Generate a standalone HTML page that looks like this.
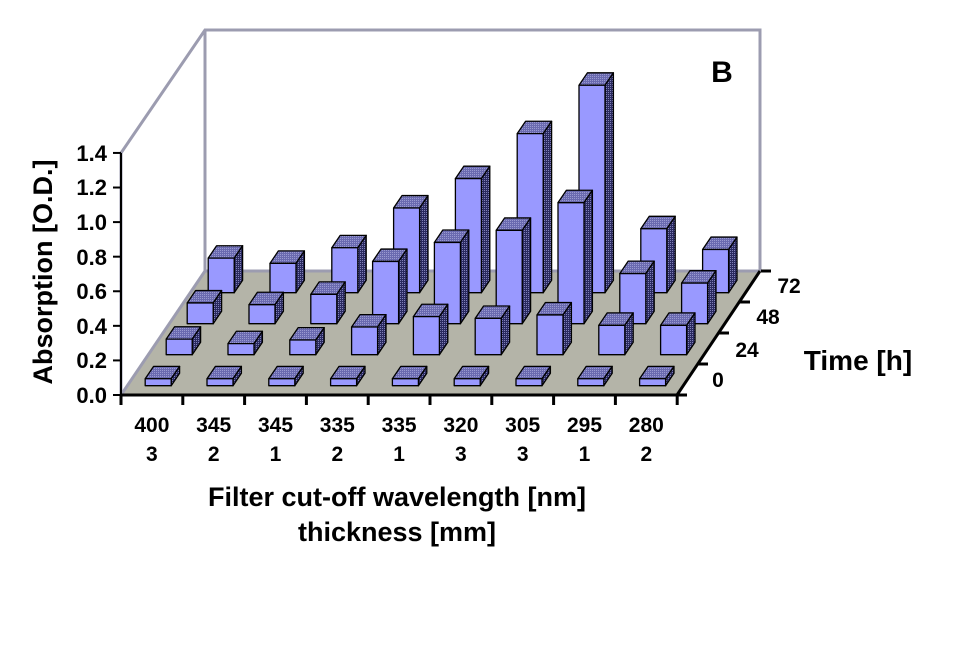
<!DOCTYPE html>
<html><head><style>
body{margin:0;background:#fff}
svg{display:block}
text{font-family:"Liberation Sans",Arial,sans-serif;font-weight:bold;fill:#000}
</style></head><body>
<svg id="s" width="975" height="650" viewBox="0 0 975 650" xmlns="http://www.w3.org/2000/svg">
<defs>
<pattern id="pt" width="2" height="2" patternUnits="userSpaceOnUse"><rect width="2" height="2" fill="#6a6ab0"/><rect width="1" height="1" fill="#9a9ad0"/></pattern>
<pattern id="ps" width="2" height="2" patternUnits="userSpaceOnUse"><rect width="2" height="2" fill="#2a2a60"/><rect width="1" height="1" fill="#8080b8"/></pattern>
</defs>
<polygon points="121,395 677,395 760,271 205,271" fill="#b4b4a8"/>
<g stroke="#9c9cb0" stroke-width="3" fill="none">
<polyline points="121,153 205,30 760,30 760,271"/>
<line x1="205" y1="30" x2="205" y2="271"/>
<line x1="205" y1="271" x2="760" y2="271"/>
<line x1="121" y1="395" x2="205" y2="271"/>
<line x1="121" y1="153" x2="121" y2="395"/>
</g>
<g id="bars"></g>
<g stroke="#000" stroke-width="3" fill="none" id="axes">
<line x1="121" y1="153" x2="121" y2="395" stroke-width="2"/>
<line x1="121" y1="395" x2="677" y2="395"/>
<line x1="677" y1="395" x2="760" y2="271"/>
</g>
<g font-size="22" text-anchor="end">
<text x="107" y="403">0.0</text><text x="107" y="368">0.2</text><text x="107" y="334">0.4</text><text x="107" y="299">0.6</text><text x="107" y="265">0.8</text><text x="107" y="230">1.0</text><text x="107" y="195">1.2</text><text x="107" y="161">1.4</text>
</g>
<text transform="translate(52,272) rotate(-90)" font-size="27" text-anchor="middle">Absorption [O.D.]</text>
<g font-size="21" text-anchor="middle" id="xl"></g>
<text x="397" y="506" font-size="27" text-anchor="middle">Filter cut-off wavelength [nm]</text>
<text x="397" y="541" font-size="27" text-anchor="middle">thickness [mm]</text>
<g font-size="21" text-anchor="middle">
<text x="789" y="293">72</text><text x="768" y="324">48</text><text x="747" y="357">24</text><text x="718" y="387">0</text>
</g>
<text x="858" y="370" font-size="28" text-anchor="middle">Time [h]</text>
<text x="722" y="82" font-size="30" text-anchor="middle">B</text>
</svg>
<script>
var ns="http://www.w3.org/2000/svg";
var vals=[
[0.04,0.04,0.04,0.04,0.04,0.04,0.04,0.04,0.04],
[0.09,0.064,0.085,0.16,0.22,0.21,0.23,0.17,0.17],
[0.12,0.11,0.17,0.36,0.47,0.54,0.70,0.29,0.235],
[0.20,0.17,0.26,0.49,0.66,0.92,1.20,0.37,0.25]];
var g=document.getElementById('bars'),ax=document.getElementById('axes'),xl=document.getElementById('xl');
function el(t,a,p){var e=document.createElementNS(ns,t);for(var k in a)e.setAttribute(k,a[k]);(p||g).appendChild(e);return e;}
var S=172.9;
for(var r=3;r>=0;r--){for(var i=0;i<9;i++){
 var f=(r+0.3)/4, dx=f*84, dy=f*124;
 var cx=121+61.8*(i+0.5)+dx, by=395-dy, h=vals[r][i]*S;
 var x0=cx-13,x1=cx+13,ty=by-h, ox=8.4, oy=12.4;
 var st={stroke:'#000','stroke-width':1.3,'stroke-linejoin':'round'};
 el('polygon',Object.assign({points:x0+','+ty+' '+x1+','+ty+' '+(x1+ox)+','+(ty-oy)+' '+(x0+ox)+','+(ty-oy),fill:'url(#pt)'},st));
 el('polygon',Object.assign({points:x1+','+ty+' '+x1+','+by+' '+(x1+ox)+','+(by-oy)+' '+(x1+ox)+','+(ty-oy),fill:'url(#ps)'},st));
 el('rect',Object.assign({x:x0,y:ty,width:26,height:h,fill:'#9999ff'},st));
}}
for(var i=0;i<10;i++){var x=121+61.8*i;el('line',{x1:x,y1:395,x2:x,y2:405},ax);}
for(var k=0;k<8;k++){var y=395-k*0.2*S;el('line',{x1:113,y1:y,x2:121,y2:y,'stroke-width':2},ax);}
for(var k=0;k<=4;k++){var x=677+k*21,y=395-k*31;el('line',{x1:x,y1:y,x2:x+10,y2:y},ax);}
var l1=['400','345','345','335','335','320','305','295','280'],l2=['3','2','1','2','1','3','3','1','2'];
for(var i=0;i<9;i++){var x=121+61.8*(i+0.5);var t=el('text',{x:x,y:432},xl);t.textContent=l1[i];t=el('text',{x:x,y:461},xl);t.textContent=l2[i];}
</script>
</body></html>
